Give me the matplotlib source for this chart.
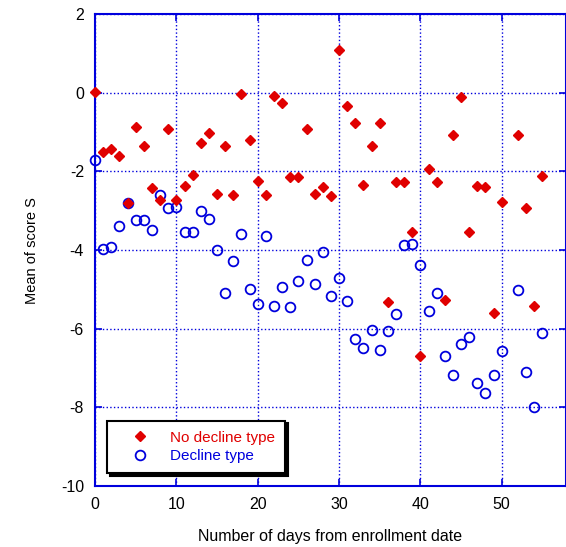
import numpy as np
import matplotlib
matplotlib.use("Agg")
import matplotlib.pyplot as plt

plt.rcParams['font.family'] = ['Liberation Sans', 'DejaVu Sans']
plt.rcParams['axes.unicode_minus'] = False

# No decline type (red diamonds); day 51 has no point
days_red = [0, 1, 2, 3, 4, 5, 6, 7, 8, 9, 10, 11, 12, 13, 14, 15, 16, 17, 18, 19,
            20, 21, 22, 23, 24, 25, 26, 27, 28, 29, 30, 31, 32, 33, 34, 35, 36, 37,
            38, 39, 40, 41, 42, 43, 44, 45, 46, 47, 48, 49, 50, 52, 53, 54, 55]
score_red = [0.03, -1.50, -1.44, -1.60, -2.79, -0.87, -1.34, -2.43, -2.72, -0.93,
             -2.72, -2.36, -2.10, -1.27, -1.03, -2.56, -1.34, -2.60, -0.04, -1.20,
             -2.24, -2.60, -0.07, -0.27, -2.13, -2.13, -0.91, -2.56, -2.40, -2.63,
             1.09, -0.34, -0.77, -2.34, -1.34, -0.77, -5.33, -2.28, -2.27, -3.53,
             -6.70, -1.94, -2.27, -5.27, -1.07, -0.11, -3.53, -2.37, -2.40, -5.59,
             -2.77, -1.07, -2.94, -5.41, -2.11]

# Decline type (blue open circles)
days_blue = list(days_red)
score_blue = [-1.71, -3.97, -3.93, -3.38, -2.80, -3.24, -3.24, -3.50, -2.61, -2.94,
              -2.91, -3.55, -3.55, -3.00, -3.21, -4.00, -5.10, -4.27, -3.60, -5.00,
              -5.36, -3.64, -5.41, -4.94, -5.44, -4.78, -4.24, -4.87, -4.04, -5.17,
              -4.71, -5.30, -6.27, -6.50, -6.03, -6.53, -6.07, -5.63, -3.87, -3.84,
              -4.37, -5.54, -5.10, -6.70, -7.17, -6.38, -6.21, -7.38, -7.64, -7.17,
              -6.57, -5.01, -7.11, -7.98, -6.11]

xticks = [0, 10, 20, 30, 40, 50]
yticks = [-10, -8, -6, -4, -2, 0, 2]

blue = '#0000dd'
red = '#e00000'

fig = plt.figure(figsize=(5.66, 5.47), dpi=100, facecolor='w')
ax = fig.add_axes([0.168, 0.1115, 0.832, 0.8625])

ax.plot(days_red, score_red, 'D', color=red, ms=5, mec=red,
        clip_on=False, zorder=5, label='No decline type')
ax.plot(days_blue, score_blue, 'o', mfc='none', mec=blue, ms=7, mew=1.3,
        clip_on=False, zorder=4, label='Decline type')

ax.set_xlim(0, 57.9)
ax.set_ylim(-10, 2)
ax.set_xticks(xticks)
ax.set_yticks(yticks)
ax.grid(True, color=blue, linestyle=':', linewidth=1)
ax.tick_params(direction='in', top=True, right=True, length=5, width=1.2,
               color=blue, labelsize=11.5, pad=8)
for s in ax.spines.values():
    s.set_color(blue)
    s.set_linewidth(1.5)

ax.set_xlabel('Number of days from enrollment date', fontsize=11.5, labelpad=12)
ax.set_ylabel('Mean of score S', fontsize=10.5, labelpad=16)

leg = ax.legend(loc='lower left', bbox_to_anchor=(0.026, 0.0275), borderaxespad=0,
                fontsize=11, fancybox=False, framealpha=1, edgecolor='k',
                shadow={'color': 'black', 'alpha': 1}, handletextpad=0.45,
                borderpad=0.65, labelspacing=0.3, handlelength=3.0)
leg.get_frame().set_linewidth(1.5)
for t, c in zip(leg.get_texts(), [red, blue]):
    t.set_color(c)

fig.savefig('out.png', dpi=100)
